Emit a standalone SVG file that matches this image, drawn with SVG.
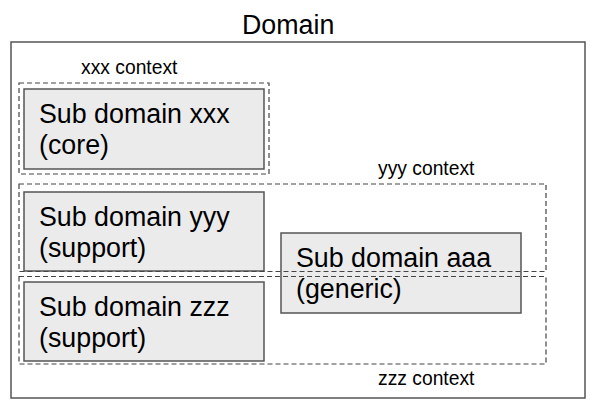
<svg xmlns="http://www.w3.org/2000/svg" width="600" height="412" viewBox="0 0 600 412">
<style>
text{font-family:"Liberation Sans",Arial,sans-serif;fill:#000}
.big{font-size:26.8px}
.ctx{font-size:19.3px}
.dash{fill:none;stroke:#444;stroke-width:1.2;stroke-dasharray:5,3}
.box{fill:#ebebeb;stroke:#555;stroke-width:1.5}
</style>
<rect width="600" height="412" fill="#fff"/>
<g id="domain">
<rect x="11" y="42" width="574" height="356" fill="none" stroke="#555" stroke-width="1.5"/>
<text class="big" x="242" y="34">Domain</text>
</g>
<g id="sub-xxx">
<rect class="box" x="24" y="89" width="240" height="80"/>
<text class="big" x="39" y="123">Sub domain xxx</text>
<text class="big" x="39" y="154">(core)</text>
</g>
<g id="sub-yyy">
<rect class="box" x="24" y="192" width="240" height="79"/>
<text class="big" x="39" y="225.5">Sub domain yyy</text>
<text class="big" x="39" y="256.5">(support)</text>
</g>
<g id="sub-zzz">
<rect class="box" x="24" y="282" width="240" height="79"/>
<text class="big" x="39" y="315.5">Sub domain zzz</text>
<text class="big" x="39" y="346.5">(support)</text>
</g>
<g id="sub-aaa">
<rect class="box" x="281" y="233" width="240" height="80"/>
<text class="big" x="296" y="267">Sub domain aaa</text>
<text class="big" x="296" y="298">(generic)</text>
</g>
<g id="xxx-context">
<rect class="dash" x="19" y="83" width="250" height="91"/>
<text class="ctx" x="81" y="74">xxx context</text>
</g>
<g id="yyy-context">
<rect class="dash" x="19" y="184" width="527" height="87.5"/>
<text class="ctx" x="378" y="175">yyy context</text>
</g>
<g id="zzz-context">
<rect class="dash" x="19" y="276.5" width="527" height="87.5"/>
<text class="ctx" x="378" y="385">zzz context</text>
</g>
<g id="connectors"/>
</svg>
